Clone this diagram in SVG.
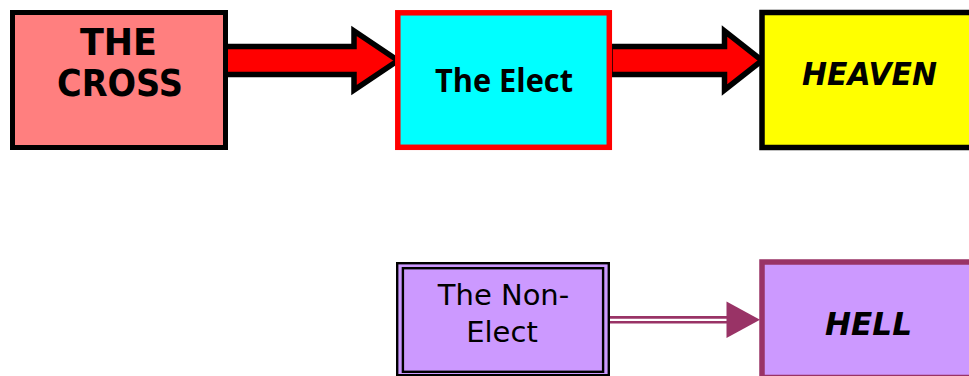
<svg xmlns="http://www.w3.org/2000/svg" width="969" height="376" viewBox="0 0 969 376">
  <style>
    .brush { font-family: "DejaVu Sans", "Liberation Sans", sans-serif; font-weight: bold; fill: #000; text-anchor: middle; }
    .bold { font-family: "Open Sans", "Liberation Sans", sans-serif; font-weight: bold; fill: #000; text-anchor: middle; }
    .plain { font-family: "DejaVu Sans", "Liberation Sans", sans-serif; fill: #000; text-anchor: middle; }
    .fat { fill: #ff0000; stroke: #000; stroke-width: 5.5; stroke-linejoin: miter; stroke-miterlimit: 10; }
  </style>
  <rect width="969" height="376" fill="#fff"/>

  <g id="connectors">
    <polygon class="fat" points="225,46.5 354,46.5 354,31 398,60.5 354,90 354,74.5 225,74.5"/>
    <polygon class="fat" points="610,46.5 724.5,46.5 724.5,31 762,60.5 724.5,90 724.5,74.5 610,74.5"/>
    <line x1="609" y1="317.4" x2="730" y2="317.4" stroke="#993366" stroke-width="2.6"/>
    <line x1="609" y1="322.3" x2="730" y2="322.3" stroke="#993366" stroke-width="2.6"/>
    <polygon points="726.5,301.5 760,319.8 726.5,338" fill="#993366"/>
  </g>

  <g id="the-cross">
    <rect x="12.5" y="12.5" width="213" height="135" fill="#ff7f7f" stroke="#000" stroke-width="5"/>
    <text class="brush" x="118.5" y="55" font-size="37" textLength="77" lengthAdjust="spacingAndGlyphs">THE</text>
    <text class="brush" x="120" y="96" font-size="37" textLength="126" lengthAdjust="spacingAndGlyphs">CROSS</text>
  </g>

  <g id="the-elect">
    <rect x="397.8" y="12.8" width="211.5" height="134.5" fill="#00ffff" stroke="#ff0000" stroke-width="5.5"/>
    <text class="bold" x="504" y="92" font-size="32" textLength="138" lengthAdjust="spacingAndGlyphs">The Elect</text>
  </g>

  <g id="heaven">
    <rect x="762" y="12.5" width="215" height="135" fill="#ffff00" stroke="#000" stroke-width="5.5"/>
    <text class="brush" x="869.5" y="85" font-size="31.5" font-style="italic" textLength="135" lengthAdjust="spacingAndGlyphs">HEAVEN</text>
  </g>

  <g id="non-elect">
    <rect x="397.2" y="263.2" width="211.6" height="112" fill="#cc99ff" stroke="#000" stroke-width="2.4"/>
    <rect x="402.9" y="268.2" width="200.2" height="103.6" fill="none" stroke="#000" stroke-width="2.4"/>
    <text class="plain" x="503.5" y="305" font-size="29">The Non-</text>
    <text class="plain" x="502" y="342" font-size="29">Elect</text>
  </g>

  <g id="hell">
    <rect x="762" y="262" width="215" height="115.5" fill="#cc99ff" stroke="#993366" stroke-width="5.5"/>
    <text class="brush" x="868.5" y="335" font-size="31.5" font-style="italic" textLength="87" lengthAdjust="spacingAndGlyphs">HELL</text>
  </g>
</svg>
